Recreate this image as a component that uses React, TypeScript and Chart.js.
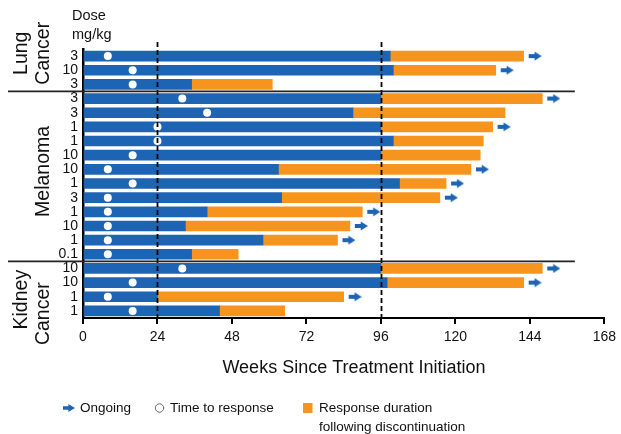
import { useEffect, useRef } from 'react';
import { Chart, registerables } from 'chart.js';

Chart.register(...registerables);

// ---- data ----
const doseLabels = ['3', '10', '3', '3', '3', '1', '1', '10', '10', '1', '3', '1', '10', '1', '0.1', '10', '10', '1', '1'];
const treatmentEnd = [99, 100, 35, 96, 87, 96, 100, 96, 63, 102, 64, 40, 33, 58, 35, 96, 98, 24, 44];
const responseEnd = [142, 133, 61, 148, 136, 132, 129, 128, 125, 117, 115, 90, 86, 82, 50, 148, 142, 84, 65];
const timeToResponse = [8, 16, 16, 32, 40, 24, 24, 16, 8, 16, 8, 8, 8, 8, 8, 32, 16, 8, 16];
const ongoing = [true, true, false, true, false, true, false, false, true, true, true, true, true, true, false, true, true, true, false];
const groupNames = [['Lung', 'Cancer'], ['Melanoma'], ['Kidney', 'Cancer']];
const groupFirstRow = [0, 3, 15];
const groupLastRow = [2, 14, 18];
const xTicks = [0, 24, 48, 72, 96, 120, 144, 168];
const referenceWeeks = [24, 96];

// ---- style ----
const BLUE = '#1e64b4';
const ORANGE = '#f7941d';
const INK = '#111111';
const FONT = '"Liberation Sans", Arial, Helvetica, sans-serif';
const groupLabelShift = [[-17, -17], [-5], [10, 24]];

function drawArrowShape(ctx: CanvasRenderingContext2D, x0: number, cy: number, len: number, h: number) {
  const shaftH = h * 0.45;
  const shaftLen = len * 0.45;
  ctx.beginPath();
  ctx.moveTo(x0, cy - shaftH / 2);
  ctx.lineTo(x0 + shaftLen, cy - shaftH / 2);
  ctx.lineTo(x0 + shaftLen, cy - h / 2);
  ctx.lineTo(x0 + len, cy);
  ctx.lineTo(x0 + shaftLen, cy + h / 2);
  ctx.lineTo(x0 + shaftLen, cy + shaftH / 2);
  ctx.lineTo(x0, cy + shaftH / 2);
  ctx.closePath();
  ctx.fill();
}

function makeArrowCanvas(): HTMLCanvasElement {
  const gap = 5;
  const len = 13;
  const h = 9;
  const c = document.createElement('canvas');
  c.width = 2 * (gap + len);
  c.height = h + 1;
  const ctx = c.getContext('2d')!;
  ctx.fillStyle = BLUE;
  drawArrowShape(ctx, gap + len + gap, c.height / 2, len, h);
  return c;
}

const overlayPlugin = {
  id: 'overlay',
  afterDatasetsDraw(chart: any) {
    const { ctx, chartArea } = chart;
    const xs = chart.scales.x;
    const ys = chart.scales.y;
    ctx.save();

    // dashed reference lines
    ctx.strokeStyle = '#000';
    ctx.lineWidth = 1.8;
    ctx.setLineDash([5, 3]);
    referenceWeeks.forEach((w) => {
      const px = Math.round(xs.getPixelForValue(w)) + 0.5;
      ctx.beginPath();
      ctx.moveTo(px, chartArea.top - 7);
      ctx.lineTo(px, chartArea.bottom);
      ctx.stroke();
    });
    ctx.setLineDash([]);

    // group separators
    ctx.strokeStyle = '#222';
    ctx.lineWidth = 1.8;
    const sepRight = xs.getPixelForValue(158.5);
    for (let g = 0; g < groupLastRow.length - 1; g++) {
      const y = (ys.getPixelForValue(groupLastRow[g]) + ys.getPixelForValue(groupFirstRow[g + 1])) / 2;
      ctx.beginPath();
      ctx.moveTo(8, y);
      ctx.lineTo(sepRight, y);
      ctx.stroke();
    }

    // group labels (rotated)
    ctx.fillStyle = INK;
    ctx.font = `19.5px ${FONT}`;
    ctx.textAlign = 'center';
    ctx.textBaseline = 'alphabetic';
    groupNames.forEach((lines, g) => {
      const cy = (ys.getPixelForValue(groupFirstRow[g]) + ys.getPixelForValue(groupLastRow[g])) / 2;
      const baseX = lines.length === 1 ? [49] : [27, 49];
      lines.forEach((line, k) => {
        ctx.save();
        ctx.translate(baseX[k], cy + groupLabelShift[g][k]);
        ctx.rotate(-Math.PI / 2);
        ctx.fillText(line, 0, 0);
        ctx.restore();
      });
    });

    // dose header
    ctx.font = `14.5px ${FONT}`;
    ctx.textAlign = 'left';
    ctx.textBaseline = 'middle';
    ctx.fillText('Dose', 72, 16);
    ctx.fillText('mg/kg', 72, 35);

    // x-axis title
    ctx.font = `18px ${FONT}`;
    ctx.textAlign = 'center';
    ctx.fillText('Weeks Since Treatment Initiation', 354, 368);

    // legend
    ctx.font = `13.5px ${FONT}`;
    ctx.textAlign = 'left';
    ctx.fillStyle = BLUE;
    drawArrowShape(ctx, 63, 408, 12, 8);
    ctx.fillStyle = INK;
    ctx.fillText('Ongoing', 80, 408);
    ctx.strokeStyle = '#666';
    ctx.lineWidth = 1;
    ctx.beginPath();
    ctx.arc(159.5, 408, 4.2, 0, Math.PI * 2);
    ctx.stroke();
    ctx.fillText('Time to response', 170, 408);
    ctx.fillStyle = ORANGE;
    ctx.fillRect(303, 403, 9.5, 10);
    ctx.fillStyle = INK;
    ctx.fillText('Response duration', 319, 408);
    ctx.fillText('following discontinuation', 319, 427);

    ctx.restore();
  },
};

export default function App() {
  const ref = useRef<HTMLCanvasElement | null>(null);

  useEffect(() => {
    document.body.style.margin = '0';
    if (!ref.current) return;
    const arrow = makeArrowCanvas();
    const chart = new Chart(ref.current, {
      type: 'bar',
      data: {
        labels: doseLabels,
        datasets: [
          {
            type: 'bar',
            label: 'On treatment',
            data: treatmentEnd,
            backgroundColor: BLUE,
            barThickness: 10,
            grouped: false,
            order: 3,
          } as any,
          {
            type: 'bar',
            label: 'Response duration following discontinuation',
            data: treatmentEnd.map((b, i) => [b, responseEnd[i]]),
            backgroundColor: ORANGE,
            barThickness: 10,
            grouped: false,
            order: 3,
          } as any,
          {
            type: 'scatter',
            label: 'Time to response',
            data: timeToResponse.map((w, i) => ({ x: w, y: i })),
            pointRadius: 4,
            pointBackgroundColor: '#ffffff',
            pointBorderColor: '#ffffff',
            pointBorderWidth: 0,
            order: 1,
          } as any,
          {
            type: 'scatter',
            label: 'Ongoing',
            data: responseEnd.map((e, i) => ({ x: ongoing[i] ? e : null, y: i })),
            pointStyle: arrow,
            pointRadius: 9,
            order: 1,
          } as any,
        ],
      },
      options: {
        indexAxis: 'y',
        responsive: false,
        animation: false,
        events: [],
        layout: { padding: { top: 49, right: 13, left: 0, bottom: 0 } },
        plugins: { legend: { display: false }, tooltip: { enabled: false } },
        scales: {
          x: {
            type: 'linear',
            min: 0,
            max: 168,
            afterBuildTicks: (s: any) => {
              s.ticks = xTicks.map((v) => ({ value: v }));
            },
            afterFit: (s: any) => {
              s.height = 116;
            },
            grid: {
              display: true,
              drawOnChartArea: false,
              drawTicks: true,
              tickLength: 6,
              color: '#000',
              lineWidth: 2,
            },
            border: { display: true, color: '#000', width: 2 },
            ticks: {
              color: INK,
              font: { family: FONT, size: 14 },
              padding: 5,
              maxRotation: 0,
              autoSkip: false,
            },
          },
          y: {
            type: 'category',
            labels: doseLabels,
            offset: true,
            afterFit: (s: any) => {
              s.width = 83;
            },
            grid: { display: false, drawTicks: false },
            border: { display: true, color: '#000', width: 2.5 },
            ticks: {
              color: INK,
              font: { family: FONT, size: 14 },
              padding: 5,
              autoSkip: false,
            },
          },
        },
      },
      plugins: [overlayPlugin],
    } as any);
    return () => chart.destroy();
  }, []);

  return (
    <div style={{ width: 621, height: 434, position: 'relative', background: '#fff' }}>
      <canvas ref={ref} width={621} height={434} style={{ display: 'block' }} />
    </div>
  );
}
